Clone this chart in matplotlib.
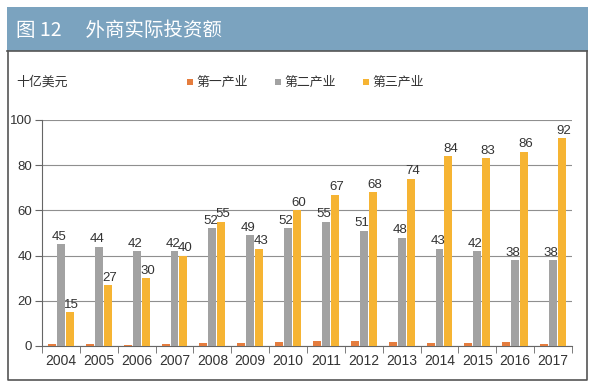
import numpy as np
import matplotlib.pyplot as plt
from matplotlib.patches import Rectangle

years = ['2004', '2005', '2006', '2007', '2008', '2009', '2010',
         '2011', '2012', '2013', '2014', '2015', '2016', '2017']
primary = [1.1, 1.0, 0.6, 0.9, 1.2, 1.4, 1.9, 2.0, 2.1, 1.8, 1.5, 1.5, 1.9, 1.1]
secondary = [45, 44, 42, 42, 52, 49, 52, 55, 51, 48, 43, 42, 38, 38]
tertiary = [15, 27, 30, 40, 55, 43, 60, 67, 68, 74, 84, 83, 86, 92]
series_names = ['第一产业', '第二产业', '第三产业']

c_primary = '#e57d3e'
c_secondary = '#a2a2a2'
c_tertiary = '#f6b433'
c_header = '#7ba3bf'

CJK = ['Noto Sans CJK SC', 'DejaVu Sans']
NUM = ['Liberation Sans', 'DejaVu Sans']

W, H = 595, 387
fig = plt.figure(figsize=(W / 100, H / 100), dpi=100)

def fx(px):
    return px / W

def fy(py):
    return 1 - py / H

# header bar and frame
fig.patches.append(Rectangle((fx(7), fy(51)), fx(581), 44 / H, transform=fig.transFigure,
                             facecolor=c_header, edgecolor='none', zorder=0))
frame_x = [fx(7.5), fx(7.5), fx(586.5), fx(586.5)]
frame_y = [fy(51), fy(380), fy(380), fy(51)]
fig.add_artist(plt.Line2D(frame_x, frame_y, transform=fig.transFigure, color='#555555', lw=1.2))
fig.add_artist(plt.Line2D([fx(7), fx(587)], [fy(51), fy(51)], transform=fig.transFigure,
                          color='#555555', lw=1.2))
fig.text(fx(16), fy(30), '图 12　 外商实际投资额', family=CJK, fontsize=14, color='white',
         va='center', ha='left')

# unit and legend
fig.text(fx(16), fy(82), '十亿美元', family=CJK, fontsize=9.3, color='#333333', va='center')
legend_x = [187, 275, 363]
for lx, name, col in zip(legend_x, series_names, [c_primary, c_secondary, c_tertiary]):
    fig.patches.append(Rectangle((fx(lx), fy(85)), fx(6), 6 / H, transform=fig.transFigure,
                                 facecolor=col, edgecolor='none'))
    fig.text(fx(lx + 9), fy(82), name, family=CJK, fontsize=9.3, color='#333333', va='center')

ax = fig.add_axes([fx(42), fy(346), fx(530), 226 / H])
x = np.arange(len(years))
bw = 0.21
step = 0.235
ax.bar(x - step, primary, bw, color=c_primary, zorder=3)
ax.bar(x, secondary, bw, color=c_secondary, zorder=3)
ax.bar(x + step, tertiary, bw, color=c_tertiary, zorder=3)

for i in range(len(years)):
    ax.text(x[i] - 0.05, secondary[i] + 0.6, str(secondary[i]), ha='center', va='bottom',
            family=NUM, fontsize=9.5, color='#333333', zorder=4)
    ax.text(x[i] + step + 0.05, tertiary[i] + 0.6, str(tertiary[i]), ha='center', va='bottom',
            family=NUM, fontsize=9.5, color='#333333', zorder=4)

ax.set_xlim(-0.5, len(years) - 0.5)
ax.set_ylim(0, 100)
ax.set_yticks(range(0, 101, 20))
ax.yaxis.grid(True, color='#8f8f8f', lw=0.8)
ax.set_axisbelow(True)
ax.set_xticks(x)
ax.set_xticklabels(years, family=NUM, fontsize=10, color='#333333')
ax.set_xticks(np.arange(-0.5, len(years), 1), minor=True)
ax.tick_params(axis='x', which='major', length=0, pad=6)
ax.tick_params(axis='x', which='minor', length=5, color='#666666', direction='out')
ax.tick_params(axis='y', length=5, color='#666666', labelsize=9.5, labelcolor='#333333', pad=2)
for lab in ax.get_yticklabels():
    lab.set_family(NUM)
for s in ['top', 'right']:
    ax.spines[s].set_visible(False)
ax.spines['left'].set_color('#666666')
ax.spines['bottom'].set_color('#666666')

fig.savefig('out.png', dpi=100)
